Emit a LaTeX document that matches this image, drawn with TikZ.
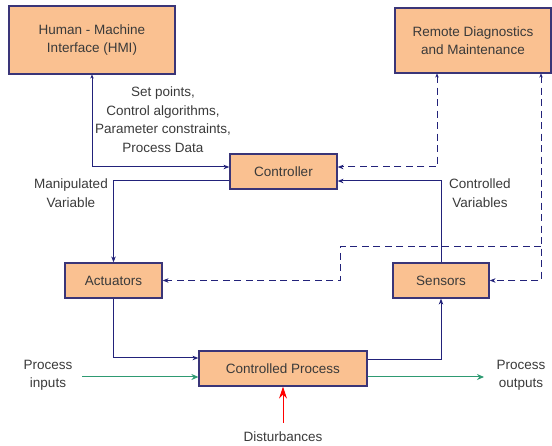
\documentclass[tikz,border=0pt]{standalone}
\usepackage{fontspec}
\setmainfont{Liberation Sans}
\usetikzlibrary{arrows.meta}
\definecolor{boxfill}{HTML}{FAC191}
\definecolor{boxline}{HTML}{3A3578}
\definecolor{navy}{HTML}{22227A}
\definecolor{flowgreen}{HTML}{2E9A72}
\definecolor{txt}{HTML}{3A3A3A}
\begin{document}
\begin{tikzpicture}[x=1pt,y=-1pt,
  font=\fontsize{13.5}{18.5}\selectfont,
  blk/.style={draw=boxline,fill=boxfill,line width=1.2pt,inner sep=0pt,
    align=center,text=txt},
  lbl/.style={align=center,text=txt,inner sep=0pt},
  link/.style={draw=navy,line width=1pt,-{Stealth[length=6pt,width=4.5pt]}},
  both/.style={draw=navy,line width=1pt,{Stealth[length=4pt,width=3.5pt]}-{Stealth[length=6pt,width=4.5pt]}},
  remote/.style={draw=navy,line width=1pt,dash pattern=on 7pt off 4.5pt},
  flow/.style={draw=flowgreen,line width=1pt,-{Stealth[length=7pt,width=6pt]}},
  dist/.style={draw=red,line width=1pt,-{Stealth[length=12pt,width=8pt]}}]
\useasboundingbox (0,0) rectangle (552,446);

% blocks
\node[blk,minimum width=166pt,minimum height=68pt] (hmi) at (92,40)
  {Human - Machine\\Interface (HMI)};
\node[blk,minimum width=156pt,minimum height=65pt] (rdm) at (473,40.5)
  {Remote Diagnostics\\and Maintenance};
\node[blk,minimum width=107pt,minimum height=35pt] (ctrl) at (283.5,171.5)
  {Controller};
\node[blk,minimum width=97pt,minimum height=35pt] (act) at (113.5,280.5)
  {Actuators};
\node[blk,minimum width=96pt,minimum height=35pt] (sens) at (441,280.5)
  {Sensors};
\node[blk,minimum width=168pt,minimum height=35pt] (proc) at (283,368.5)
  {Controlled Process};

% labels
\node[lbl] (setpts) at (163,119.5)
  {Set points,\\Control algorithms,\\Parameter constraints,\\Process Data};
\node[lbl] (manip) at (71,193) {Manipulated\\Variable};
\node[lbl] (cvar) at (480,193) {Controlled\\Variables};
\node[lbl] (pin) at (48,375.5) {Process\\inputs};
\node[lbl] (pout) at (521,375.5) {Process\\outputs};
\node[lbl] (distl) at (283,437) {Disturbances};

% free ends
\coordinate (join) at (541,247);
\coordinate (bend) at (340,247);
\coordinate (inflow) at (82,377);
\coordinate (outflow) at (484,377);
\coordinate (dsrc) at (283,423);

% control loop
\draw[both] (hmi.south) |- ([yshift=4.5pt]ctrl.west);
\draw[link] ([yshift=-9.5pt]ctrl.west) -| (act.north);
\draw[link] (sens.north) |- ([yshift=-9.5pt]ctrl.east);
\draw[link] (act.south) |- ([yshift=10.5pt]proc.west);
\draw[link] ([yshift=8.5pt]proc.east) -| (sens.south);

% remote links
\draw[remote,{Stealth[length=4pt,width=3.5pt]}-{Stealth[length=6pt,width=4.5pt]}]
  ([xshift=-36pt]rdm.south) |- ([yshift=4.5pt]ctrl.east);
\draw[remote,{Stealth[length=4pt,width=3.5pt]}-{Stealth[length=6pt,width=4.5pt]}]
  ([xshift=68pt]rdm.south) |- (sens.east);
\draw[remote,-{Stealth[length=6pt,width=4.5pt]}] (join) -- (bend) |- (act.east);

% process flows
\draw[flow] (inflow) -- ([yshift=-8.5pt]proc.west);
\draw[flow] ([yshift=-8.5pt]proc.east) -- (outflow);
\draw[dist] (dsrc) -- (proc.south);
\end{tikzpicture}
\end{document}
